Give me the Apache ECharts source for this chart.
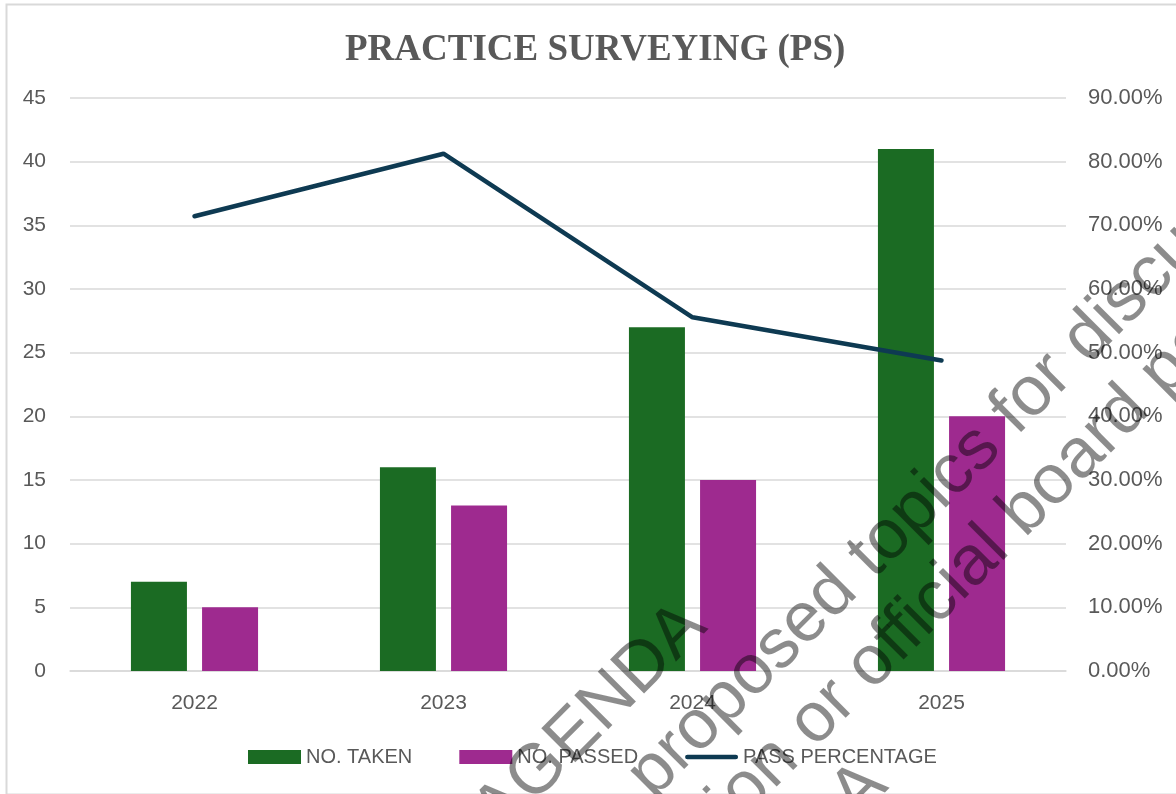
<!DOCTYPE html>
<html>
<head>
<meta charset="utf-8">
<script src="https://cdn.jsdelivr.net/npm/echarts@6/dist/echarts.min.js"></script>
<style>
  html, body { margin: 0; padding: 0; background: #fff; }
  #chart { width: 1176px; height: 794px; }
</style>
</head>
<body>
<div id="chart"></div>
<script>
const years = ["2022", "2023", "2024", "2025"];
const taken = [7, 16, 27, 41];
const passed = [5, 13, 15, 20];
const passPct = [71.43, 81.25, 55.56, 48.78];

const labelColor = "#595959";
const gridColor = "#d9d9d9";
const fontFamily = "'Liberation Sans', Arial, sans-serif";

const chart = echarts.init(document.getElementById("chart"));

// watermark text, rotated 45deg, drawn on top of everything
const wm = (text, x, y, align) => ({
  type: "text",
  x: x,
  y: y,
  rotation: Math.PI / 4,
  silent: true,
  z: 100,
  style: {
    text: text,
    fill: "rgba(0,0,0,0.45)",
    font: "70px 'Liberation Sans', Arial, sans-serif",
    align: align,
    verticalAlign: "middle"
  }
});

const option = {
  backgroundColor: "#fff",
  animation: false,
  title: {
    text: "PRACTICE SURVEYING (PS)",
    left: 340,
    top: 27,
    textStyle: {
      fontFamily: "'Liberation Serif', 'Times New Roman', serif",
      fontSize: 37,
      fontWeight: "bold",
      color: labelColor
    }
  },
  legend: {
    top: 742,
    left: 243,
    itemWidth: 53,
    itemHeight: 14,
    itemGap: 47,
    textStyle: { color: labelColor, fontSize: 20, fontFamily: fontFamily },
    data: [
      { name: "NO. TAKEN", icon: "rect" },
      { name: "NO. PASSED", icon: "rect" },
      { name: "PASS PERCENTAGE", icon: "path://M2.5,0 L54.5,0 A2.5,2.5 0 0 1 54.5,5 L2.5,5 A2.5,2.5 0 0 1 2.5,0 Z" }
    ]
  },
  grid: { left: 70, right: 110, top: 98, bottom: 123 },
  xAxis: {
    type: "category",
    data: years,
    axisTick: { show: false },
    axisLine: { lineStyle: { color: gridColor, width: 1.5 } },
    axisLabel: { color: labelColor, fontSize: 21, fontFamily: fontFamily, margin: 22 }
  },
  yAxis: [
    {
      type: "value",
      min: 0,
      max: 45,
      interval: 5,
      axisLine: { show: false },
      axisTick: { show: false },
      axisLabel: { color: labelColor, fontSize: 21, fontFamily: fontFamily, margin: 24 },
      splitLine: { lineStyle: { color: gridColor, width: 1.5 } }
    },
    {
      type: "value",
      min: 0,
      max: 90,
      interval: 10,
      position: "right",
      axisLine: { show: false },
      axisTick: { show: false },
      splitLine: { show: false },
      axisLabel: {
        color: labelColor,
        fontSize: 22,
        fontFamily: fontFamily,
        margin: 22,
        formatter: (v) => v.toFixed(2) + "%"
      }
    }
  ],
  series: [
    {
      name: "NO. TAKEN",
      type: "bar",
      data: taken,
      barWidth: 56,
      barGap: "27%",
      itemStyle: { color: "#1b6b23" }
    },
    {
      name: "NO. PASSED",
      type: "bar",
      data: passed,
      barWidth: 56,
      itemStyle: { color: "#9e2a8f" }
    },
    {
      name: "PASS PERCENTAGE",
      type: "line",
      yAxisIndex: 1,
      data: passPct,
      symbol: "none",
      lineStyle: { color: "#0e3a52", width: 4.5, cap: "round" },
      itemStyle: { color: "#0e3a52" }
    }
  ],
  graphic: [
    {
      type: "rect",
      left: 4,
      top: 2,
      shape: { width: 1190, height: 790 },
      style: { fill: "none", stroke: gridColor, lineWidth: 2 },
      silent: true,
      z: -1
    },
    wm("DRAFT AGENDA", 695, 615, "right"),
    wm("These are proposed", 846, 580, "right"),
    wm("topics for discussion", 860, 566, "left"),
    wm("and do not represent action or", 845, 691, "right"),
    wm("official board policy", 858, 678, "left"),
    wm("DRAFT AGENDA", 876, 774, "right")
  ]
};

chart.setOption(option);
</script>
</body>
</html>
